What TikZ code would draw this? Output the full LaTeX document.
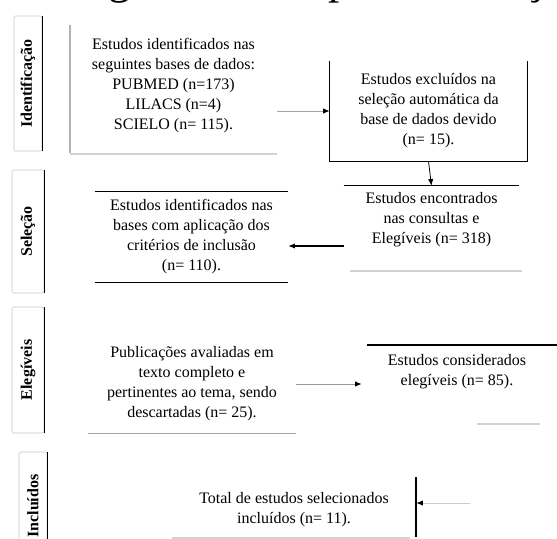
\documentclass[tikz,border=0pt]{standalone}
\usepackage{fontspec}
\setmainfont{Liberation Serif}
\usetikzlibrary{calc,arrows.meta}

\tikzset{
  caixa/.style={align=center, inner sep=0pt, font=\fontsize{12}{15}\selectfont},
  etapa/.style={rotate=90, draw=gray!45, rounded corners=1pt, inner sep=0pt,
    font=\bfseries\fontsize{12}{14}\selectfont},
  borda/.style={line width=0.9pt},
  fraca/.style={gray!35, line width=0.8pt},
  seta/.style={-{Latex[length=5pt,width=4pt,color=black]}, line width=0.6pt}
}

\begin{document}
\begin{tikzpicture}[x=0.75pt,y=-0.75pt]
\useasboundingbox (0,0) rectangle (557,539);
\clip (0,0) rectangle (557,539);

% Titulo (cortado)
\node[anchor=base west, inner sep=0pt, font=\fontsize{34}{40}\selectfont]
(titulo) at (70,-7)
{Figura 1 – Etapas da seleção};

% Etapas
\node[etapa, minimum width=101.25pt, minimum height=21pt]
(e1) at (28,83.5) {Identificação};
\node[etapa, minimum width=92.25pt, minimum height=24pt]
(e2) at (28,231.5) {Seleção};
\node[etapa, minimum width=94.5pt, minimum height=24pt]
(e3) at (28,370) {Elegíveis};
\node[etapa, minimum width=81pt, minimum height=21pt]
(e4) at (33,506) {Incluídos};

\draw[borda] (e1.south west) -- (e1.south east);
\draw[borda] (e2.south west) -- (e2.south east);
\draw[borda] (e3.south west) -- (e3.south east);
\draw[borda] (e4.south west) -- (e4.south east);

% Identificacao
\node[caixa, minimum width=155.25pt]
(b1) at (173.5,86)
{Estudos identificados nas\\seguintes bases de dados:\\PUBMED (n=173)\\LILACS (n=4)\\SCIELO (n= 115).};
\draw[gray!60, line width=0.8pt] (70,25) -- (70,153);
\draw[fraca] (70,154) -- (277,154);

\node[caixa, minimum width=147.75pt, minimum height=75pt]
(b2) at (428.5,111)
{Estudos excluídos na\\seleção automática da\\base de dados devido\\(n= 15).};
\draw[borda] (b2.north west) -- (b2.south west) -- (b2.south east) -- (b2.north east);

% Selecao
\node[caixa, minimum width=131.25pt, minimum height=51pt]
(b3) at (431.5,220)
{Estudos encontrados\\nas consultas e\\Elegíveis (n= 318)};
\draw[borda] (b3.north west) -- (b3.north east);
\draw[fraca] (350,271) -- (522,271);

\node[caixa, minimum width=144.75pt, minimum height=67.5pt]
(b4) at (191.5,237)
{Estudos identificados nas\\bases com aplicação dos\\critérios de inclusão\\(n= 110).};
\draw[borda] (b4.north west) -- (b4.north east);
\draw[borda] (b4.south west) -- (b4.south east);

% Elegibilidade
\node[caixa, minimum width=156pt, minimum height=73.5pt]
(b5) at (192,384)
{Publicações avaliadas em\\texto completo e\\pertinentes ao tema, sendo\\descartadas (n= 25).};
\draw[gray!70, line width=0.8pt] (b5.south west) -- (b5.south east);

\node[caixa, minimum width=142.5pt]
(b6) at (457,372)
{Estudos considerados\\elegíveis (n= 85).};
\draw[borda] (367,345) -- (557,345);
\draw[fraca] (477,424) -- (540,424);

% Inclusao
\node[caixa, minimum width=183pt]
(b7) at (294,510)
{Total de estudos selecionados\\incluídos (n= 11).};
\draw[line width=1.1pt] (416,477) -- (416,537);
\draw[fraca] (172,538) -- (410,538);

% Setas
\draw[seta, gray!70] (b1.east |- b2.west) -- (b2.west);
\draw[seta] (b2.south) -- (b3.north);
\draw[seta, line width=0.9pt] ($(b3.west |- b4.east)+(0,9)$) -- ($(b4.east)+(0,9)$);
\draw[seta, gray!80] (b5.east) -- (b5.east -| b6.west);
\coordinate (c7) at (470,503);
\draw[seta, gray!40] (c7) -- (c7 -| b7.east);

\end{tikzpicture}
\end{document}
